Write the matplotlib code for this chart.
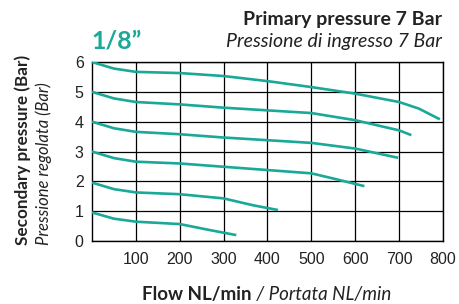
import matplotlib

matplotlib.use("Agg")
import matplotlib.pyplot as plt

plt.rcParams["font.family"] = "Liberation Sans"

TEAL = "#1aa898"
INK = "#222222"

# Flow (NL/min) vs secondary pressure (bar), one curve per set pressure
flow_6 = [0, 50, 100, 200, 300, 400, 500, 600, 700, 745, 793]
pres_6 = [6.0, 5.78, 5.67, 5.63, 5.53, 5.36, 5.16, 4.94, 4.66, 4.44, 4.08]
flow_5 = [0, 50, 100, 200, 300, 400, 500, 600, 700, 728]
pres_5 = [5.0, 4.78, 4.66, 4.58, 4.47, 4.38, 4.29, 4.05, 3.71, 3.55]
flow_4 = [0, 50, 100, 200, 300, 400, 500, 600, 698]
pres_4 = [4.0, 3.78, 3.66, 3.58, 3.47, 3.38, 3.29, 3.10, 2.79]
flow_3 = [0, 50, 100, 200, 300, 400, 500, 549, 621]
pres_3 = [3.0, 2.78, 2.66, 2.60, 2.49, 2.38, 2.27, 2.10, 1.84]
flow_2 = [0, 50, 100, 200, 300, 367, 424]
pres_2 = [1.96, 1.74, 1.63, 1.57, 1.43, 1.20, 1.04]
flow_1 = [0, 50, 100, 200, 268, 329]
pres_1 = [0.96, 0.75, 0.65, 0.57, 0.37, 0.20]

curves = [
    (flow_6, pres_6),
    (flow_5, pres_5),
    (flow_4, pres_4),
    (flow_3, pres_3),
    (flow_2, pres_2),
    (flow_1, pres_1),
]
x_ticks = [100, 200, 300, 400, 500, 600, 700, 800]
y_ticks = [0, 1, 2, 3, 4, 5, 6]

fig = plt.figure(figsize=(4.59, 3.04), dpi=100)
ax = fig.add_axes([0.2004, 0.207, 0.7646, 0.589])

for flow, pres in curves:
    ax.plot(flow, pres, color=TEAL, linewidth=1.9, solid_capstyle="butt", zorder=3)

ax.set_xlim(0, 800)
ax.set_ylim(0, 6)
ax.set_xticks(x_ticks)
ax.set_yticks(y_ticks)
ax.grid(True, color="black", linewidth=0.9)
for spine in ax.spines.values():
    spine.set_linewidth(1.0)
ax.tick_params(length=0, labelsize=11.5, colors=INK)
ax.tick_params(axis="x", pad=8)
ax.tick_params(axis="y", pad=6)

fig.text(0.20, 0.865, "1/8\u201d", color=TEAL, fontsize=18, fontweight="bold",
         family="Lato", ha="left", va="center")
fig.text(0.963, 0.936, "Primary pressure 7 Bar", fontsize=14, fontweight="bold",
         family="Lato", ha="right", va="center", color=INK)
fig.text(0.963, 0.863, "Pressione di ingresso 7 Bar", fontsize=14, style="italic",
         family="Lato", ha="right", va="center", color=INK)

fig.text(0.05, 0.194, "Secondary pressure (Bar)", fontsize=12.3, fontweight="bold",
         family="Lato", rotation=90, ha="center", va="bottom", color=INK)
fig.text(0.096, 0.194, "Pressione regolata (Bar)", fontsize=12, style="italic",
         family="Lato", rotation=90, ha="center", va="bottom", color=INK)

fig.text(0.549, 0.03, "Flow NL/min", fontsize=13.5, fontweight="bold",
         family="Lato", ha="right", va="center", color=INK)
fig.text(0.549, 0.03, " / Portata NL/min", fontsize=13.5, style="italic",
         family="Lato", ha="left", va="center", color=INK)

fig.savefig("out.png", dpi=100, facecolor="white")
